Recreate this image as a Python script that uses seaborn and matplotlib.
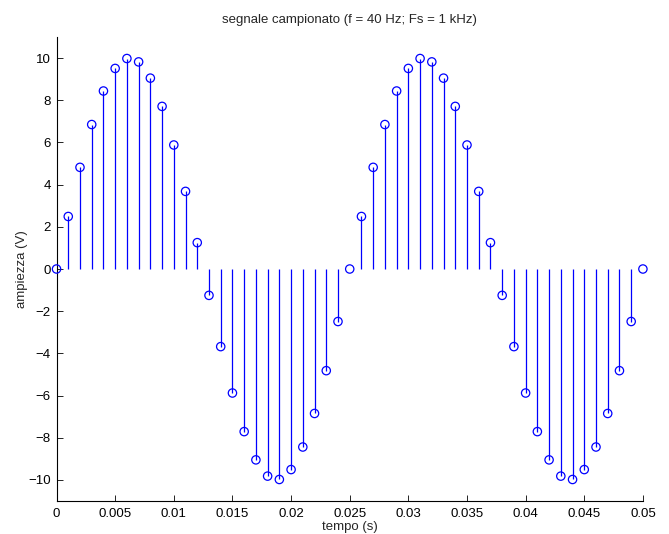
import matplotlib
matplotlib.use("Agg")
import matplotlib.pyplot as plt
import seaborn as sns
import pandas as pd

# sample times (s)
tempo = [0.000, 0.001, 0.002, 0.003, 0.004, 0.005, 0.006, 0.007, 0.008, 0.009,
         0.010, 0.011, 0.012, 0.013, 0.014, 0.015, 0.016, 0.017, 0.018, 0.019,
         0.020, 0.021, 0.022, 0.023, 0.024, 0.025, 0.026, 0.027, 0.028, 0.029,
         0.030, 0.031, 0.032, 0.033, 0.034, 0.035, 0.036, 0.037, 0.038, 0.039,
         0.040, 0.041, 0.042, 0.043, 0.044, 0.045, 0.046, 0.047, 0.048, 0.049,
         0.050]
# sampled amplitudes (V)
ampiezza = [0.00, 2.49, 4.82, 6.85, 8.44, 9.51, 9.98, 9.82, 9.05, 7.71,
            5.88, 3.68, 1.25, -1.25, -3.68, -5.88, -7.71, -9.05, -9.82, -9.98,
            -9.51, -8.44, -6.85, -4.82, -2.49, 0.00, 2.49, 4.82, 6.85, 8.44,
            9.51, 9.98, 9.82, 9.05, 7.71, 5.88, 3.68, 1.25, -1.25, -3.68,
            -5.88, -7.71, -9.05, -9.82, -9.98, -9.51, -8.44, -6.85, -4.82, -2.49,
            0.00]
xticks = [0, 0.005, 0.01, 0.015, 0.02, 0.025, 0.03, 0.035, 0.04, 0.045, 0.05]
xticklabels = ["0", "0.005", "0.01", "0.015", "0.02", "0.025", "0.03", "0.035", "0.04", "0.045", "0.05"]
yticks = [-10, -8, -6, -4, -2, 0, 2, 4, 6, 8, 10]
yticklabels = ["\u221210", "\u22128", "\u22126", "\u22124", "\u22122", "0", "2", "4", "6", "8", "10"]

sns.set_style("ticks")
plt.rcParams['font.family'] = ['Liberation Sans', 'DejaVu Sans']

df = pd.DataFrame({"tempo": tempo, "ampiezza": ampiezza})

fig = plt.figure(figsize=(6.69, 5.34), dpi=100)
ax = fig.add_axes([0.0845, 0.0618, 0.8765, 0.8689])

ax.vlines(df["tempo"], 0, df["ampiezza"], color="#0000ff", linewidth=0.9)
sns.scatterplot(data=df, x="tempo", y="ampiezza", ax=ax, marker="o",
                s=36, facecolor="none", edgecolor="#0000ff", linewidth=0.9,
                zorder=3, clip_on=False)

ax.set_xlim(0, 0.05)
ax.set_ylim(-11, 11)
ax.set_xticks(xticks)
ax.set_xticklabels(xticklabels)
ax.set_yticks(yticks)
ax.set_yticklabels(yticklabels)
ax.tick_params(direction="in", length=4, width=0.6, labelsize=9.5, colors="black")
ax.tick_params(axis="x", pad=5)
ax.tick_params(axis="y", pad=4)
sns.despine(ax=ax)
for s in ["left", "bottom"]:
    ax.spines[s].set_linewidth(0.8)
    ax.spines[s].set_color("black")

ax.set_xlabel("tempo (s)", fontsize=9.5, labelpad=1)
ax.set_ylabel("ampiezza (V)", fontsize=9.5, labelpad=0)
ax.set_title("segnale campionato (f = 40 Hz; Fs = 1 kHz)", fontsize=9.5, pad=10)

fig.savefig("out.png", dpi=100)
